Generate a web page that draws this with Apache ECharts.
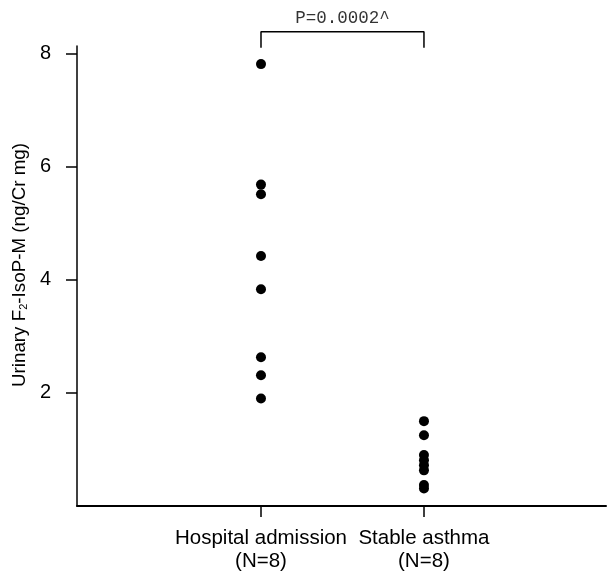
<!DOCTYPE html>
<html>
<head>
<meta charset="utf-8">
<script src="https://cdn.jsdelivr.net/npm/echarts@6/dist/echarts.min.js"></script>
<style>
  html, body { margin: 0; padding: 0; background: #fff; }
  #main { width: 608px; height: 572px; }
</style>
</head>
<body>
<div id="main"></div>
<script>
// groups on the x axis (placed at x = 1, 2)
var groups = ['Hospital admission\n(N=8)', 'Stable asthma\n(N=8)'];
var groupX = [1, 2];

// urinary F2-IsoP-M, ng/Cr mg
var hospital = [7.81, 5.68, 5.51, 4.42, 3.83, 2.63, 2.31, 1.90];
var stable = [1.50, 1.25, 0.90, 0.81, 0.72, 0.63, 0.37, 0.31];

var yTicks = [2, 4, 6, 8];

// significance bracket
var bracketLow = 8.10;
var bracketHigh = 8.38;
var pText = 'P=0.0002^';

var chart = echarts.init(document.getElementById('main'), null, { renderer: 'canvas' });

var font = 'Liberation Sans, Arial, sans-serif';

var option = {
  animation: false,
  backgroundColor: '#fff',
  grid: {
    left: 77,
    right: 2,
    top: 46,
    bottom: 66,
    outerBoundsMode: 'none'
  },
  xAxis: {
    type: 'value',
    min: -0.129,
    max: 3.117,
    splitLine: { show: false },
    axisLine: { onZero: false, lineStyle: { color: '#000', width: 2 } },
    axisTick: {
      customValues: groupX,
      length: 11,
      lineStyle: { color: '#000', width: 1.5 }
    },
    axisLabel: {
      customValues: groupX,
      margin: 21,
      color: '#000',
      fontFamily: font,
      fontSize: 20.5,
      lineHeight: 23,
      formatter: function (v) {
        return groups[groupX.indexOf(v)] || '';
      }
    }
  },
  yAxis: {
    type: 'value',
    min: 0,
    max: 8.13,
    name: 'Urinary F{sub|2}-IsoP-M (ng/Cr mg)',
    nameLocation: 'middle',
    nameGap: 44,
    nameTextStyle: {
      color: '#000',
      fontFamily: font,
      fontSize: 18.8,
      padding: [0, 0, 0, 22],
      rich: {
        sub: { fontSize: 11, verticalAlign: 'bottom', fontFamily: font, color: '#000' }
      }
    },
    splitLine: { show: false },
    axisLine: { onZero: false, lineStyle: { color: '#000', width: 1.5 } },
    axisTick: {
      customValues: yTicks,
      length: 11,
      lineStyle: { color: '#000', width: 1.5 }
    },
    axisLabel: {
      customValues: yTicks,
      margin: 26,
      color: '#000',
      fontFamily: font,
      fontSize: 20
    }
  },
  series: [
    {
      name: 'Hospital admission',
      type: 'scatter',
      symbol: 'circle',
      symbolSize: 10,
      itemStyle: { color: '#000', opacity: 1 },
      data: hospital.map(function (v) { return [groupX[0], v]; })
    },
    {
      name: 'Stable asthma',
      type: 'scatter',
      symbol: 'circle',
      symbolSize: 10,
      itemStyle: { color: '#000', opacity: 1 },
      data: stable.map(function (v) { return [groupX[1], v]; })
    },
    {
      type: 'line',
      clip: false,
      symbol: 'none',
      silent: true,
      lineStyle: { color: '#000', width: 1.5 },
      data: [
        [groupX[0], bracketLow],
        [groupX[0], bracketHigh],
        [groupX[1], bracketHigh],
        [groupX[1], bracketLow]
      ]
    },
    {
      type: 'scatter',
      clip: false,
      symbolSize: 0,
      silent: true,
      label: {
        show: true,
        position: 'top',
        distance: 4,
        color: '#000',
        fontFamily: 'Liberation Mono, Courier New, monospace',
        fontSize: 17.5,
        formatter: function () { return pText; }
      },
      data: [[(groupX[0] + groupX[1]) / 2, bracketHigh]]
    }
  ]
};

chart.setOption(option);
</script>
</body>
</html>
